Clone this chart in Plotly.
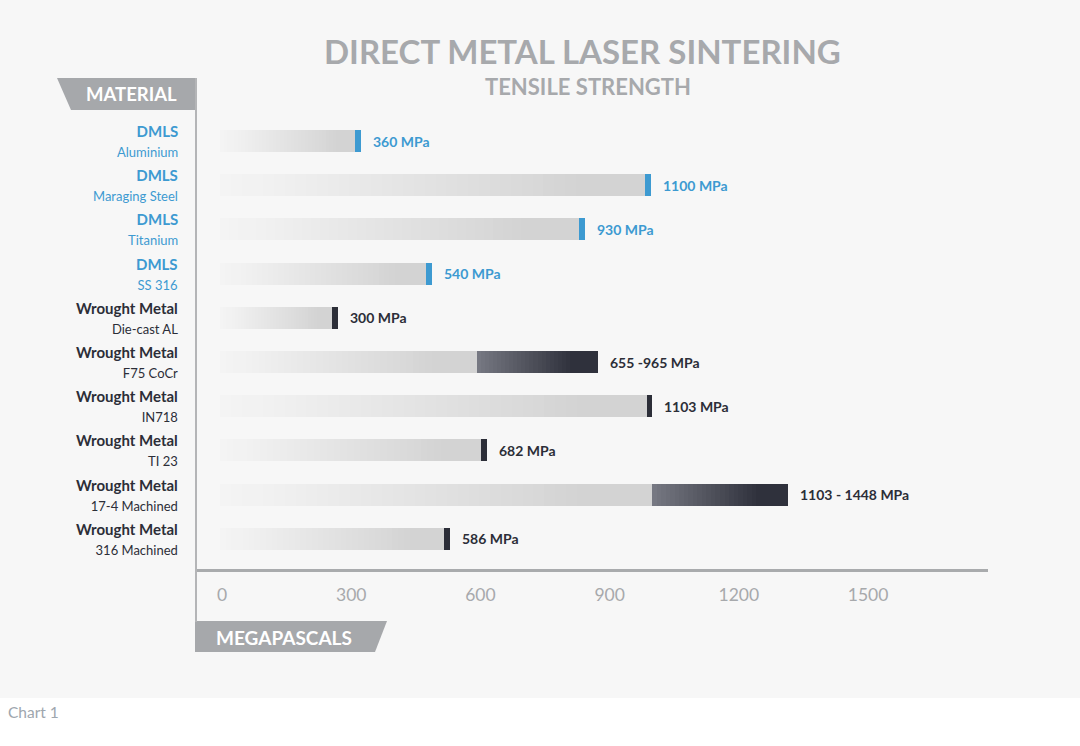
import plotly.graph_objects as go

# ---------------- data ----------------
groups = ["DMLS", "DMLS", "DMLS", "DMLS",
          "Wrought Metal", "Wrought Metal", "Wrought Metal",
          "Wrought Metal", "Wrought Metal", "Wrought Metal"]
materials = ["Aluminium", "Maraging Steel", "Titanium", "SS 316",
             "Die-cast AL", "F75 CoCr", "IN718", "TI 23",
             "17-4 Machined", "316 Machined"]
strength_low = [360, 1100, 930, 540, 300, 655, 1103, 682, 1103, 586]
strength_high = [None, None, None, None, None, 965, None, None, 1448, None]
value_labels = ["360 MPa", "1100 MPa", "930 MPa", "540 MPa", "300 MPa",
                "655 -965 MPa", "1103 MPa", "682 MPa", "1103 - 1448 MPa", "586 MPa"]
axis_ticks = [0, 300, 600, 900, 1200, 1500]

# ---------------- style ----------------
W, H = 1080, 746
L, R, T, B = 196, 988, 78, 569          # plot area in px
FONT = "Lato"
GREY = "#a7a9ac"
BLUE = "#3d9ad1"
DARK = "#2c2e38"
BG = "#f7f7f7"


def px_x(p):
    return (p - L) / (R - L)


def px_y(p):
    return (B - p) / (B - T)


def row_color(g):
    return BLUE if g == "DMLS" else DARK


fig = go.Figure()

y_idx = list(range(len(materials)))
BAR_W = 0.5

# light gradient part of every bar (0 -> low value)
N = 40
for k in range(N):
    f = k / (N - 1)
    t = min(1.0, f / 0.85) ** 1.1
    c = int(round(244 - (244 - 211) * t))
    col = f"rgb({c},{c},{c})"
    bases = [v * k / N for v in strength_low]
    widths = [min(v / N * 1.6, v - b) for v, b in zip(strength_low, bases)]
    fig.add_trace(go.Bar(
        y=y_idx, x=widths, base=bases, orientation="h", width=BAR_W,
        marker=dict(color=col, line=dict(width=0)),
        hoverinfo="skip", showlegend=False, xaxis="x", yaxis="y"))

# dark gradient part for ranges (low -> high)
M = 30
rng_y = [i for i, h in enumerate(strength_high) if h is not None]
for k in range(M):
    f = k / (M - 1)
    t = min(1.0, f / 0.8)
    r0, g0, b0 = 118, 120, 130
    r1, g1, b1 = 47, 49, 60
    col = f"rgb({int(r0+(r1-r0)*t)},{int(g0+(g1-g0)*t)},{int(b0+(b1-b0)*t)})"
    bases, widths = [], []
    for i in rng_y:
        lo, hi = strength_low[i], strength_high[i]
        b = lo + (hi - lo) * k / M
        bases.append(b)
        widths.append(min((hi - lo) / M * 1.6, hi - b))
    fig.add_trace(go.Bar(
        y=rng_y, x=widths, base=bases, orientation="h", width=BAR_W,
        marker=dict(color=col, line=dict(width=0)),
        hoverinfo="skip", showlegend=False, xaxis="x", yaxis="y"))

# end caps for single values
CAP = 15
cap_y = [i for i, h in enumerate(strength_high) if h is None]
fig.add_trace(go.Bar(
    y=cap_y, x=[CAP] * len(cap_y),
    base=[strength_low[i] - CAP for i in cap_y],
    orientation="h", width=BAR_W,
    marker=dict(color=[row_color(groups[i]) for i in cap_y], line=dict(width=0)),
    hoverinfo="skip", showlegend=False, xaxis="x", yaxis="y"))

# invisible trace to anchor the tick axis
fig.add_trace(go.Scatter(x=[axis_ticks[0], axis_ticks[-1]], y=[0, 0], mode="markers",
                         marker=dict(opacity=0), hoverinfo="skip", showlegend=False,
                         xaxis="x2", yaxis="y"))

annotations = []
# value labels
for i in y_idx:
    end = strength_high[i] if strength_high[i] is not None else strength_low[i]
    annotations.append(dict(
        x=end, y=i, xref="x", yref="y", text=f"<b>{value_labels[i]}</b>",
        showarrow=False, xanchor="left", yanchor="middle", xshift=10,
        font=dict(family=FONT, size=14, color=row_color(groups[i]))))

# row labels
for i in y_idx:
    annotations.append(dict(
        x=px_x(180), y=i, xref="paper", yref="y",
        text=f"<b>{groups[i]}</b><br><span style='font-size:13px'>{materials[i]}</span>",
        showarrow=False, xanchor="right", yanchor="middle", align="right",
        font=dict(family=FONT, size=15, color=row_color(groups[i]))))

# titles / tags
annotations += [
    dict(x=px_x(582), y=px_y(51), xref="paper", yref="paper", showarrow=False,
         text="<b>DIRECT METAL LASER SINTERING</b>", xanchor="center", yanchor="middle",
         font=dict(family=FONT, size=33, color=GREY)),
    dict(x=px_x(588), y=px_y(87), xref="paper", yref="paper", showarrow=False,
         text="<b>TENSILE STRENGTH</b>", xanchor="center", yanchor="middle",
         font=dict(family=FONT, size=22, color=GREY)),
    dict(x=px_x(179), y=px_y(94), xref="paper", yref="paper", showarrow=False,
         text="<b>MATERIAL</b>", xanchor="right", yanchor="middle",
         font=dict(family=FONT, size=18.5, color="white")),
    dict(x=px_x(214), y=px_y(637), xref="paper", yref="paper", showarrow=False,
         text="<b>MEGAPASCALS</b>", xanchor="left", yanchor="middle",
         font=dict(family=FONT, size=19, color="white")),
    dict(x=px_x(6), y=px_y(712), xref="paper", yref="paper", showarrow=False,
         text="Chart 1", xanchor="left", yanchor="middle",
         font=dict(family=FONT, size=15.5, color="#9ea6ae")),
]


def path(pts):
    return "M " + " L ".join(f"{px_x(a):.5f},{px_y(b):.5f}" for a, b in pts) + " Z"


shapes = [
    dict(type="rect", xref="paper", yref="paper", layer="below",
         x0=px_x(0), x1=px_x(W), y0=px_y(698), y1=px_y(0),
         fillcolor=BG, line=dict(width=0)),
    dict(type="path", xref="paper", yref="paper", layer="above",
         path=path([(57, 78), (196, 78), (196, 110), (71, 110)]),
         fillcolor="#a6a8ab", line=dict(width=0)),
    dict(type="path", xref="paper", yref="paper", layer="above",
         path=path([(195, 621), (387, 621), (375, 652), (195, 652)]),
         fillcolor="#a6a8ab", line=dict(width=0)),
    dict(type="line", xref="paper", yref="paper", layer="above",
         x0=px_x(196), x1=px_x(196), y0=px_y(78), y1=px_y(622),
         line=dict(color="#b4b5b7", width=2)),
]

# bar scale: 0 at 220px, ~0.392 px / MPa ; tick scale: 0 at 224px, ~0.4307 px / MPa
bar_scale, bar_zero = 0.392, 220
tick_scale, tick_zero = 0.4307, 222
x_range = [(L - bar_zero) / bar_scale, (R - bar_zero) / bar_scale]
x2_range = [(L - tick_zero) / tick_scale, (R - tick_zero) / tick_scale]

row_px0, row_step = 141, 44.2
y_range = [(B - row_px0) / row_step, (T - row_px0) / row_step]

fig.update_layout(
    width=W, height=H,
    margin=dict(l=L, r=W - R, t=T, b=H - B, pad=0),
    paper_bgcolor="white", plot_bgcolor="rgba(0,0,0,0)",
    barmode="overlay", bargap=0,
    showlegend=False,
    xaxis=dict(range=x_range, visible=False, fixedrange=True),
    xaxis2=dict(range=x2_range, overlaying="x", side="bottom", anchor="y",
                tickvals=axis_ticks, ticktext=[str(v) for v in axis_ticks],
                showgrid=False, zeroline=False, showline=True,
                linecolor="#a9abad", linewidth=2.5, ticks="",
                ticklabelstandoff=8,
                tickfont=dict(family=FONT, size=17.5, color=GREY)),
    yaxis=dict(range=y_range, visible=False, fixedrange=True),
    annotations=annotations,
    shapes=shapes,
)

fig.write_html("out.html")
